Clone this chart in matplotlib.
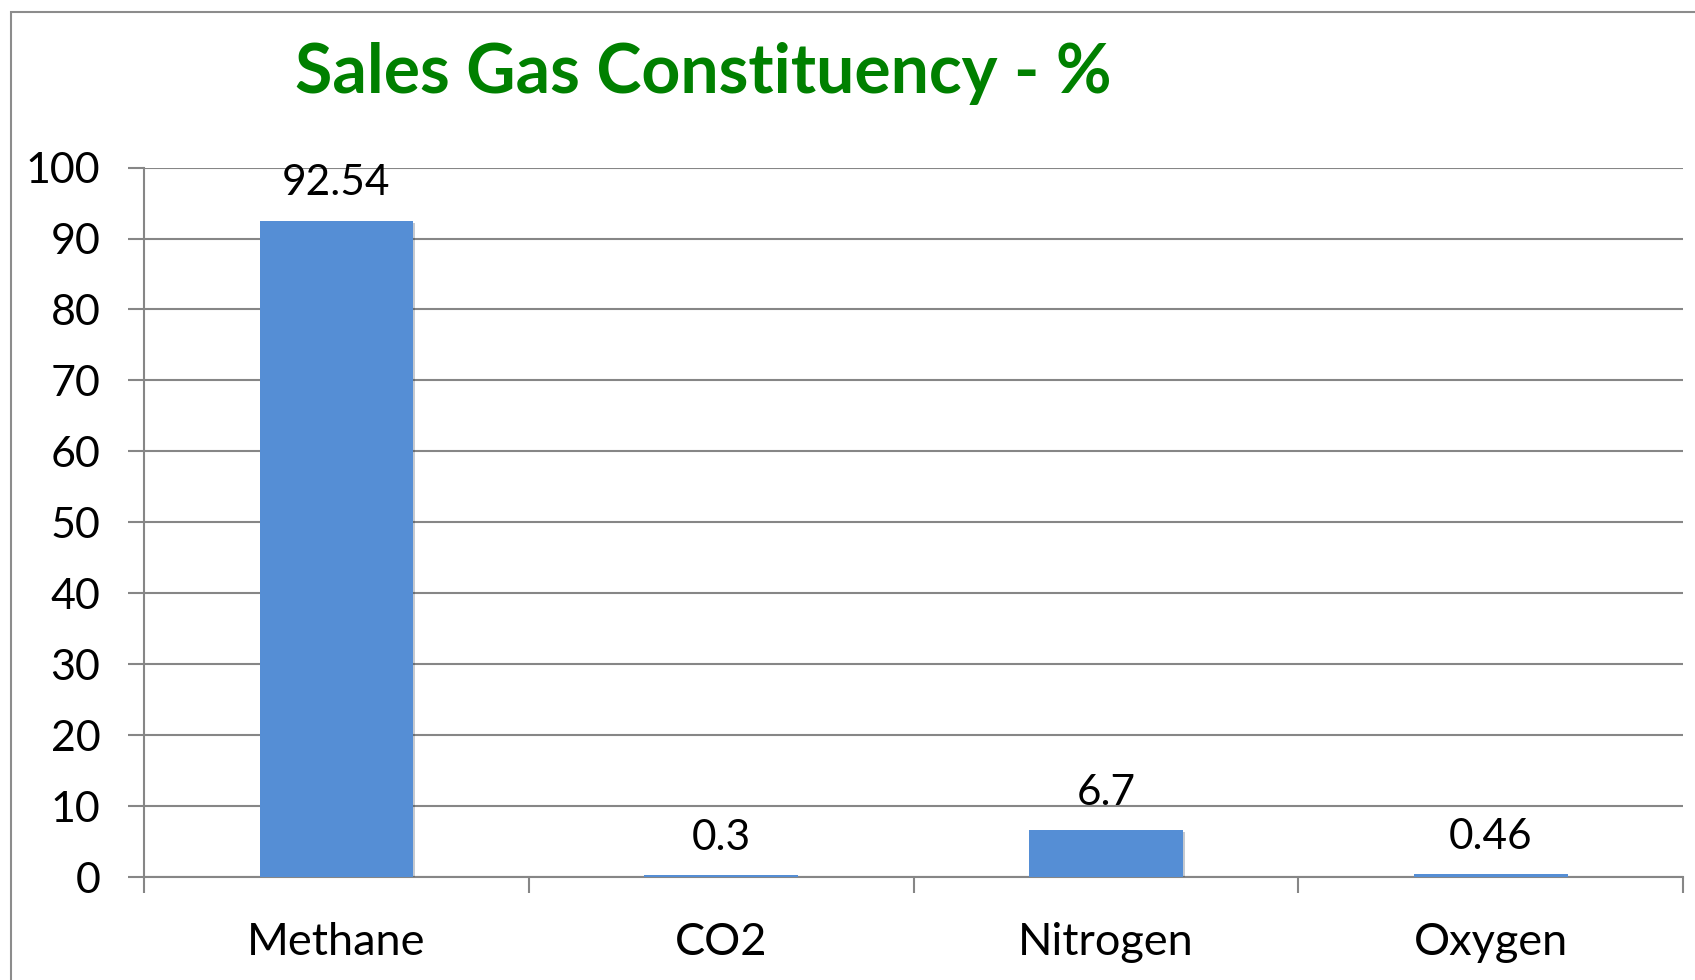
import matplotlib
matplotlib.use("Agg")
import matplotlib.pyplot as plt
import matplotlib.patheffects as pe
from matplotlib.patches import Rectangle
import numpy as np

# data
gases = ["Methane", "CO2", "Nitrogen", "Oxygen"]
percent = [92.54, 0.3, 6.7, 0.46]
yticks = [0, 10, 20, 30, 40, 50, 60, 70, 80, 90, 100]

plt.rcParams['font.family'] = ['Lato', 'DejaVu Sans']

bar_col = "#558ED5"
line_col = "#868686"

fig = plt.figure(figsize=(16.95, 9.8), dpi=100)
ax = fig.add_axes([0.085, 0.105, 0.908, 0.724])

# outer chart frame
fig.patches.append(Rectangle((0.0064, -0.01), 1.0, 0.998, transform=fig.transFigure,
                             fill=False, edgecolor="#8c8c8c", linewidth=1.5))

x = np.arange(len(gases))
bars = ax.bar(x, percent, width=0.4, color=bar_col, zorder=3,
              path_effects=[pe.SimplePatchShadow(offset=(1.5, -2), alpha=0.25), pe.Normal()])
ax.bar_label(bars, labels=[f"{v:g}" for v in percent], padding=13, fontsize=30.5, color="black")

ax.set_xlim(-0.5, len(gases) - 0.5)
ax.set_ylim(0, 100)
ax.set_yticks(yticks)
ax.set_yticklabels([str(t) for t in yticks])
ax.set_xticks(x)
ax.set_xticklabels(gases)
ax.set_xticks(np.arange(-0.5, len(gases)), minor=True)

ax.yaxis.grid(True, color=line_col, linewidth=1.5, zorder=0)
ax.set_axisbelow(True)

ax.tick_params(axis="y", length=11.5, width=1.5, color=line_col, labelsize=31, pad=20)
ax.tick_params(axis="x", which="major", length=0, labelsize=32.5, pad=32)
ax.tick_params(axis="x", which="minor", length=11.5, width=1.5, color=line_col)

for s in ["top", "right"]:
    ax.spines[s].set_visible(False)
for s in ["left", "bottom"]:
    ax.spines[s].set_color(line_col)
    ax.spines[s].set_linewidth(1.5)

fig.text(0.415, 0.925, "Sales Gas Constituency - %", color="#008000", fontsize=49,
         fontweight="bold", ha="center", va="center")

fig.savefig("out.png", dpi=100)
